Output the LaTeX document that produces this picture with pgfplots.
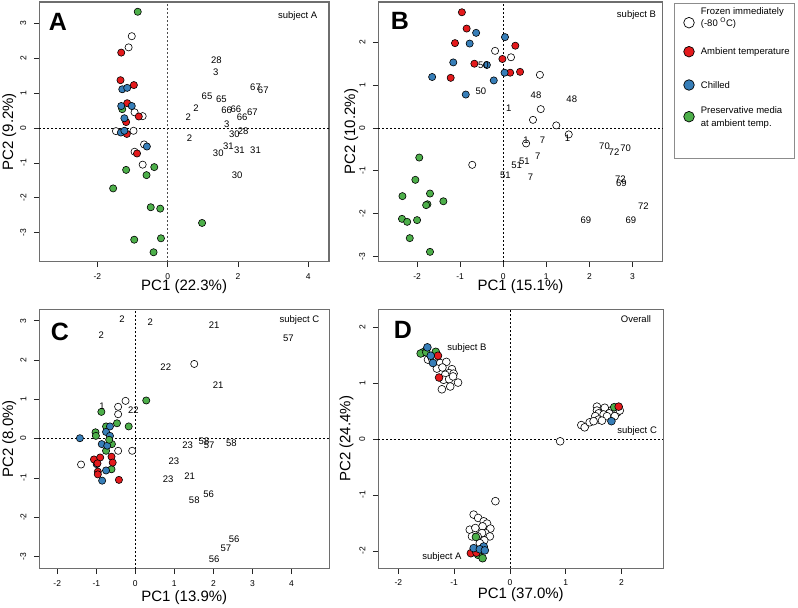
\documentclass[border=0pt]{standalone}
\usepackage{fontspec}
\setmainfont{Liberation Sans}
\usepackage{pgfplots}
\pgfplotsset{compat=1.18}
\definecolor{amb}{HTML}{E41A1C}
\definecolor{chl}{HTML}{377EB8}
\definecolor{prs}{HTML}{4DAF4A}
\definecolor{boxgray}{HTML}{6E6E6E}

\tikzset{zl/.style={black, line width=0.8bp, dash pattern=on 2bp off 2bp}}
\pgfplotsset{
  pca/.style={
    scale only axis, clip=false,
    axis line style={draw=boxgray, line width=1.3bp},
    tick align=outside, major tick length=5.5bp,
    xtick pos=left, ytick pos=left,
    tick style={draw=black!85, line width=0.8bp},
    ticklabel style={font=\fontsize{8.5bp}{9bp}\selectfont},
    /pgf/number format/assume math mode=true,
    yticklabel style={rotate=90, anchor=south},
    xticklabel shift=2.5bp, yticklabel shift=4bp,
    label style={font=\fontsize{15bp}{16bp}\selectfont},
  },
  pt/.style={only marks, mark=*, mark size=3.6bp,
    mark options={draw=black, line width=0.6bp, fill=#1}},
  lbl/.style={only marks, mark=*, mark size=0pt, mark options={draw=none, fill=none},
    nodes near coords, point meta=explicit symbolic,
    every node near coord/.append style={anchor=center, inner sep=0pt,
      font=\fontsize{9.5bp}{10bp}\selectfont}},
}
\newcommand{\letterfont}{\fontsize{25bp}{26bp}\bfseries\selectfont}
\newcommand{\subfont}{\fontsize{9.5bp}{10bp}\selectfont}

\begin{document}
\begin{tikzpicture}
\path[use as bounding box] (0,0) rectangle (798bp,608bp);

% ---------------- A ----------------
\begin{axis}[pca, at={(39.3bp,346.3bp)}, anchor=south west,
  width=289.7bp, height=259.7bp,
  xmin=-3.65, xmax=4.59, ymin=-3.83, ymax=3.61,
  xtick={-2,0,2,4}, ytick={-3,-2,-1,0,1,2,3},
  xlabel={PC1 (22.3\%)}, ylabel={PC2 (9.2\%)},
  xlabel style={at={(axis description cs:0.5,0)}, anchor=center, yshift=-25bp},
  ylabel style={at={(axis description cs:-0.1036,0.5)}, anchor=center},
]
\draw[zl] (axis cs:-3.65,0) -- (axis cs:4.59,0);
\draw[zl, black!70] (axis cs:0,-3.83) -- (axis cs:0,3.61);
\addplot[pt=white] table {
x y
-1.02 2.63
-1.11 2.31
-0.94 0.45
-0.71 0.34
-1.47 -0.09
-0.97 -0.08
-0.67 -0.47
-0.94 -0.68
-0.71 -1.05
};
\addplot[pt=prs] table {
x y
-0.85 3.33
-1.29 0.54
-1.18 -1.20
-0.38 -1.12
-0.60 -1.35
-1.55 -1.73
-0.48 -2.27
-0.21 -2.31
0.98 -2.72
-0.95 -3.20
-0.19 -3.16
-0.40 -3.56
};
\addplot[pt=amb] table {
x y
-1.32 2.16
-1.34 1.37
-0.96 1.23
-1.15 0.71
-0.82 0.33
-1.18 0.17
-1.16 -0.17
-0.87 -0.73
};
\addplot[pt=chl] table {
x y
-1.29 1.11
-1.15 1.15
-1.32 0.63
-1.02 0.63
-1.23 0.28
-1.33 -0.13
-1.23 -0.08
-0.59 -0.53
};
\addplot[lbl] table[meta=l] {
x y l
1.39 1.93 28
1.37 1.61 3
2.50 1.16 67
2.72 1.09 67
1.12 0.90 65
1.53 0.83 65
0.81 0.58 2
0.59 0.32 2
1.68 0.52 66
1.94 0.53 66
2.12 0.32 66
2.41 0.45 67
1.68 0.10 3
1.90 -0.17 30
2.15 -0.09 28
0.62 -0.30 2
1.73 -0.53 31
2.04 -0.65 31
1.44 -0.73 30
2.50 -0.63 31
1.98 -1.36 30
};
\node[font=\letterfont] at (axis description cs:0.0645,0.923) {A};
\node[font=\subfont] at (axis description cs:0.892,0.947) {subject A};
\end{axis}

% ---------------- B ----------------
\begin{axis}[pca, at={(378.3bp,346.3bp)}, anchor=south west,
  width=284.4bp, height=259.7bp,
  xmin=-2.90, xmax=3.70, ymin=-3.12, ymax=2.94,
  xtick={-2,-1,0,1,2,3}, ytick={-3,-2,-1,0,1,2},
  xlabel={PC1 (15.1\%)}, ylabel={PC2 (10.2\%)},
  xlabel style={at={(axis description cs:0.5,0)}, anchor=center, yshift=-25bp},
  ylabel style={at={(axis description cs:-0.095,0.5)}, anchor=center},
]
\draw[zl] (axis cs:-2.90,0) -- (axis cs:3.70,0);
\draw[zl] (axis cs:0,-3.12) -- (axis cs:0,2.94);
\addplot[pt=white] table {
x y
-0.19 1.80
0.18 1.65
0.85 1.24
0.87 0.44
0.69 0.19
1.23 0.06
1.52 -0.15
0.53 -0.36
-0.72 -0.86
};
\addplot[pt=prs] table {
x y
-1.95 -0.69
-2.04 -1.21
-2.34 -1.59
-1.70 -1.53
-1.76 -1.78
-1.79 -1.80
-1.39 -1.71
-2.35 -2.12
-2.23 -2.19
-2.00 -2.15
-2.17 -2.57
-1.70 -2.89
};
\addplot[pt=amb] table {
x y
-0.96 2.70
-0.85 2.32
-1.12 1.98
0.28 1.92
-0.02 1.61
-0.67 1.50
-1.22 1.17
0.16 1.29
0.39 1.31
};
\addplot[pt=chl] table {
x y
-0.63 2.22
0.04 2.12
-0.78 1.97
-1.16 1.53
-0.38 1.47
-1.65 1.19
-0.22 1.11
0.03 1.29
-0.87 0.78
};
\addplot[lbl] table[meta=l] {
x y l
-0.46 1.47 50
-0.52 0.86 50
0.76 0.76 48
1.59 0.66 48
0.13 0.45 1
0.53 -0.29 1
0.91 -0.29 7
1.49 -0.25 1
0.80 -0.67 7
0.49 -0.78 51
0.31 -0.87 51
0.05 -1.10 51
0.63 -1.15 7
2.35 -0.42 70
2.57 -0.56 72
2.84 -0.47 70
2.72 -1.20 72
2.74 -1.29 69
3.25 -1.82 72
1.92 -2.16 69
2.96 -2.15 69
};
\node[font=\letterfont] at (axis description cs:0.076,0.928) {B};
\node[font=\subfont] at (axis description cs:0.908,0.95) {subject B};
\end{axis}

% ---------------- C ----------------
\begin{axis}[pca, at={(39.3bp,39.3bp)}, anchor=south west,
  width=290bp, height=259.4bp,
  xmin=-2.46, xmax=4.97, ymin=-3.31, ymax=3.29,
  xtick={-2,-1,0,1,2,3,4}, ytick={-3,-2,-1,0,1,2,3},
  xlabel={PC1 (13.9\%)}, ylabel={PC2 (8.0\%)},
  xlabel style={at={(axis description cs:0.5,0)}, anchor=center, yshift=-29bp},
  ylabel style={at={(axis description cs:-0.1034,0.5)}, anchor=center},
]
\draw[zl] (axis cs:-2.46,0) -- (axis cs:4.97,0);
\draw[zl] (axis cs:0,-3.31) -- (axis cs:0,3.29);
\addplot[pt=white] table {
x y
1.51 1.90
-0.25 0.96
-0.44 0.81
-0.44 0.62
-0.44 -0.31
-0.08 -0.31
-1.39 -0.66
};
\addplot[pt=prs] table {
x y
0.28 0.97
-0.87 0.68
-0.47 0.39
-0.17 0.31
-0.75 0.31
-1.02 0.16
-1.01 0.07
-0.60 -0.14
-0.75 -0.31
-0.61 -0.78
};
\addplot[pt=chl] table {
x y
-1.42 0.01
-0.65 0.31
-0.75 0.17
-0.65 0.07
-0.86 -0.14
-0.72 -0.18
-0.99 -0.65
-0.75 -0.81
-0.85 -1.07
};
\addplot[pt=prs] table {
x y
-0.67 -0.03
};
\addplot[pt=amb] table {
x y
-1.06 -0.53
-0.90 -0.48
-0.61 -0.46
-0.58 -0.61
-0.97 -0.63
-0.96 -0.84
-0.96 -0.91
-0.42 -1.05
};
\addplot[lbl] table[meta=l] {
x y l
-0.34 3.04 2
0.38 2.95 2
-0.87 2.62 2
2.02 2.89 21
3.92 2.54 57
0.78 1.81 22
2.12 1.36 21
-0.85 0.83 1
-0.05 0.73 22
1.76 -0.06 58
1.89 -0.16 57
2.46 -0.13 58
1.34 -0.16 23
0.99 -0.58 23
1.39 -0.95 21
0.84 -1.04 23
1.88 -1.41 56
1.51 -1.56 58
2.53 -2.55 56
2.32 -2.79 57
2.02 -3.06 56
};
\node[font=\letterfont] at (axis description cs:0.071,0.914) {C};
\node[font=\subfont] at (axis description cs:0.897,0.959) {subject C};
\end{axis}

% ---------------- D ----------------
\begin{axis}[pca, at={(378.3bp,39.7bp)}, anchor=south west,
  width=285bp, height=259bp,
  xmin=-2.36, xmax=2.75, ymin=-2.31, ymax=2.32,
  xtick={-2,-1,0,1,2}, ytick={-2,-1,0,1,2},
  xlabel={PC1 (37.0\%)}, ylabel={PC2 (24.4\%)},
  xlabel style={at={(axis description cs:0.5,0)}, anchor=center, yshift=-26bp},
  ylabel style={at={(axis description cs:-0.112,0.5)}, anchor=center},
]
\draw[zl] (axis cs:-2.36,0) -- (axis cs:2.75,0);
\draw[zl] (axis cs:0,-2.31) -- (axis cs:0,2.32);
\addplot[pt=white, mark size=3.9bp] table {
x y
-1.47 1.42
-1.39 1.42
-1.25 1.36
-1.14 1.38
-1.31 1.26
-1.21 1.28
-1.04 1.25
-1.09 1.18
-1.01 1.17
-1.16 1.15
-1.19 1.06
-1.09 1.07
-1.02 1.12
-0.93 1.01
-1.07 0.94
-1.22 0.89
0.90 -0.04
1.28 0.25
1.34 0.21
1.43 0.30
1.56 0.58
1.56 0.51
1.70 0.56
1.83 0.52
1.93 0.48
1.97 0.51
1.78 0.46
1.59 0.46
1.68 0.44
1.53 0.41
1.74 0.41
1.88 0.41
1.59 0.35
1.65 0.33
1.50 0.32
-0.26 -1.11
-0.65 -1.35
-0.57 -1.41
-0.47 -1.47
-0.41 -1.51
-0.49 -1.56
-0.35 -1.60
-0.72 -1.62
-0.62 -1.59
-0.44 -1.68
-0.50 -1.68
-0.58 -1.74
-0.36 -1.74
-0.68 -1.74
-0.46 -1.81
-0.54 -1.86
};
\addplot[pt=prs, mark size=3.9bp] table {
x y
-1.56 1.55
-1.60 1.53
-1.50 1.55
-1.33 1.56
1.87 0.57
-0.61 -1.75
-0.61 -2.01
-0.57 -2.07
-0.49 -2.13
};
\addplot[pt=amb, mark size=3.9bp] table {
x y
-1.29 1.49
-1.27 1.10
1.95 0.58
-0.70 -2.04
-0.60 -2.03
};
\addplot[pt=chl, mark size=3.9bp] table {
x y
-1.48 1.64
-1.42 1.49
-1.38 1.36
1.82 0.32
-0.47 -1.92
-0.65 -1.95
-0.54 -1.97
-0.45 -1.99
};
\node[font=\subfont] at (axis cs:-0.77,1.62) {subject B};
\node[font=\subfont] at (axis cs:2.28,0.14) {subject C};
\node[font=\subfont] at (axis cs:-1.22,-2.11) {subject A};
\node[font=\letterfont] at (axis description cs:0.086,0.920) {D};
\node[font=\subfont] at (axis description cs:0.904,0.964) {Overall};
\end{axis}

% ---------------- legend ----------------
\draw[black!45, line width=0.6bp] (674.3bp,450bp) rectangle (794.3bp,605bp);
\begin{scope}[every node/.style={anchor=west, inner sep=0pt, font=\subfont}]
\draw[black, line width=0.7bp, fill=white] (689bp,585.3bp) circle (5.3bp);
\node at (700.7bp,596.3bp) {Frozen immediately};
\node at (700.7bp,584.7bp) {(-80 \textsuperscript{O}C)};
\draw[black, line width=0.7bp, fill=amb] (689bp,556.3bp) circle (5.3bp);
\node at (700.7bp,556.3bp) {Ambient temperature};
\draw[black, line width=0.7bp, fill=chl] (689bp,523bp) circle (5.3bp);
\node at (700.7bp,523bp) {Chilled};
\draw[black, line width=0.7bp, fill=prs] (689bp,491.3bp) circle (5.3bp);
\node at (700.7bp,498bp) {Preservative media};
\node at (700.7bp,484bp) {at ambient temp.};
\end{scope}
\end{tikzpicture}
\end{document}
